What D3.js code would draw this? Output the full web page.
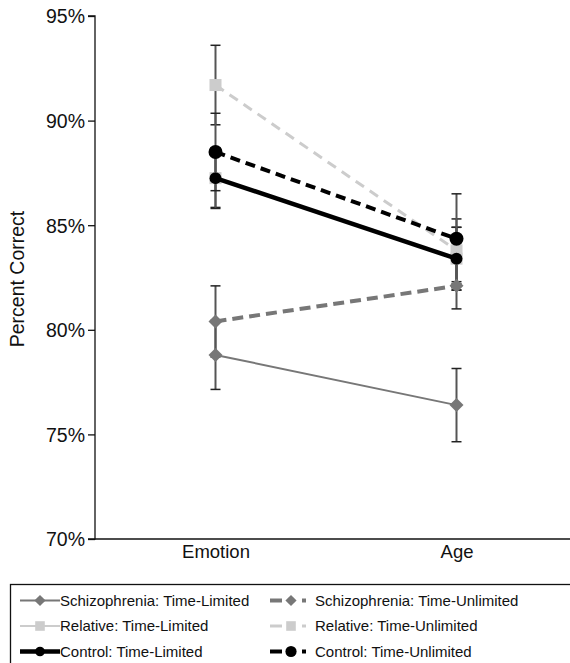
<!DOCTYPE html>
<html>
<head>
<meta charset="utf-8">
<script src="https://cdn.jsdelivr.net/npm/d3@7"></script>
<style>
  body { margin: 0; background: #fff; }
  text { font-family: "Liberation Sans", Arial, sans-serif; fill: #111; }
</style>
</head>
<body>
<svg width="570" height="663"></svg>
<script>
// conditions on the x axis
var conditions = ["Emotion", "Age"];

// percent correct per condition, and the error bar half-widths
var schizLimited = [78.8, 76.4],   schizLimitedErr = [1.65, 1.75];
var schizUnlimited = [80.4, 82.1], schizUnlimitedErr = [1.7, 1.1];
var relLimited = [87.25, 83.4],    relLimitedErr = [1.4, 1.5];
var relUnlimited = [91.7, 83.8],   relUnlimitedErr = [1.9, 1.5];
var ctrlLimited = [87.25, 83.4],   ctrlLimitedErr = [1.45, 1.5];
var ctrlUnlimited = [88.5, 84.35], ctrlUnlimitedErr = [1.85, 2.15];

var yTicks = [70, 75, 80, 85, 90, 95];

var svg = d3.select("svg");

// build the series list from the arrays above
var series = [
  {name: "Schizophrenia: Time-Limited", values: schizLimited, err: schizLimitedErr,
   color: "#777", width: 2, dash: null, marker: "diamond", size: 7},
  {name: "Schizophrenia: Time-Unlimited", values: schizUnlimited, err: schizUnlimitedErr,
   color: "#777", width: 4, dash: "11,6", marker: "diamond", size: 7},
  {name: "Relative: Time-Limited", values: relLimited, err: relLimitedErr,
   color: "#ccc", width: 2, dash: null, marker: "square", size: 6},
  {name: "Relative: Time-Unlimited", values: relUnlimited, err: relUnlimitedErr,
   color: "#ccc", width: 3, dash: "10,7", marker: "square", size: 6},
  {name: "Control: Time-Limited", values: ctrlLimited, err: ctrlLimitedErr,
   color: "#000", width: 4.5, dash: null, marker: "circle", size: 6},
  {name: "Control: Time-Unlimited", values: ctrlUnlimited, err: ctrlUnlimitedErr,
   color: "#000", width: 4, dash: "10,6", marker: "circle", size: 7}
];

var x = d3.scalePoint().domain(conditions).range([95, 577]).padding(0.5);
var y = d3.scaleLinear().domain([70, 95]).range([539, 16]);

// axes
var yAxis = svg.append("g")
    .attr("transform", "translate(95,0)")
    .call(d3.axisLeft(y).tickValues(yTicks).tickSize(7).tickPadding(3)
      .tickFormat(function(d) { return d + "%"; }));
yAxis.selectAll("text").style("font-size", "19.5px").attr("dy", "0.35em");
yAxis.select(".domain").attr("d", "M-7,16H0V539H-7").attr("stroke", "#111").attr("stroke-width", 1.3);
yAxis.selectAll(".tick line").attr("stroke", "#111").attr("stroke-width", 1.3);

var xAxis = svg.append("g")
    .attr("transform", "translate(0,539)")
    .call(d3.axisBottom(x).tickSize(0).tickPadding(6));
xAxis.selectAll("text").style("font-size", "18.5px");
xAxis.select(".domain").attr("d", "M95,0H577").attr("stroke", "#111").attr("stroke-width", 1.3);

svg.append("text")
    .attr("transform", "translate(24,279) rotate(-90)")
    .attr("text-anchor", "middle")
    .style("font-size", "19.5px")
    .text("Percent Correct");

// error bars
var bars = svg.append("g");
series.forEach(function(s) {
  conditions.forEach(function(c, i) {
    var cx = x(c), lo = y(s.values[i] - s.err[i]), hi = y(s.values[i] + s.err[i]);
    bars.append("line").attr("x1", cx).attr("x2", cx).attr("y1", lo).attr("y2", hi)
        .attr("stroke", "#555").attr("stroke-width", 2);
    [lo, hi].forEach(function(yy) {
      bars.append("line").attr("x1", cx - 5).attr("x2", cx + 5).attr("y1", yy).attr("y2", yy)
          .attr("stroke", "#222").attr("stroke-width", 1.5);
    });
  });
});

var line = d3.line()
    .x(function(d, i) { return x(conditions[i]); })
    .y(function(d) { return y(d); });

function drawMarker(g, s, cx, cy, k) {
  var r = s.size * (k || 1);
  if (s.marker === "circle") {
    g.append("circle").attr("cx", cx).attr("cy", cy).attr("r", r).attr("fill", s.color);
  } else if (s.marker === "square") {
    g.append("rect").attr("x", cx - r).attr("y", cy - r).attr("width", 2 * r).attr("height", 2 * r)
        .attr("fill", s.color);
  } else {
    g.append("path").attr("d", "M" + cx + "," + (cy - r) + "L" + (cx + r) + "," + cy + "L" + cx + "," + (cy + r) + "L" + (cx - r) + "," + cy + "Z")
        .attr("fill", s.color);
  }
}

// draw in an order so the black control lines sit on top
var order = [2, 3, 0, 1, 4, 5];
order.forEach(function(k) {
  var s = series[k];
  var g = svg.append("g");
  g.append("path").datum(s.values)
      .attr("d", line)
      .attr("fill", "none")
      .attr("stroke", s.color)
      .attr("stroke-width", s.width)
      .attr("stroke-dasharray", s.dash);
  s.values.forEach(function(v, i) { drawMarker(g, s, x(conditions[i]), y(v)); });
});

// legend
var legend = svg.append("g");
legend.append("rect").attr("x", 10.5).attr("y", 584.5).attr("width", 570).attr("height", 100)
    .attr("fill", "none").attr("stroke", "#111").attr("stroke-width", 1.3);

series.forEach(function(s, i) {
  var col = i % 2, row = Math.floor(i / 2);
  var lx = col === 0 ? 20 : 270, ly = 600.5 + row * 25.5;
  var g = legend.append("g");
  if (s.dash) {
    g.append("line").attr("x1", lx).attr("x2", lx + 12).attr("y1", ly).attr("y2", ly)
        .attr("stroke", s.color).attr("stroke-width", s.width);
    g.append("line").attr("x1", lx + 32).attr("x2", lx + 36).attr("y1", ly).attr("y2", ly)
        .attr("stroke", s.color).attr("stroke-width", s.width);
    drawMarker(g, s, lx + 21, ly, 0.8);
  } else {
    g.append("line").attr("x1", lx).attr("x2", lx + 40).attr("y1", ly).attr("y2", ly)
        .attr("stroke", s.color).attr("stroke-width", s.width);
    drawMarker(g, s, lx + 20, ly, 0.8);
  }
  g.append("text").attr("x", col === 0 ? lx + 40 : lx + 45).attr("y", ly).attr("dy", "0.35em")
      .style("font-size", "15px").text(s.name);
});
</script>
</body>
</html>
